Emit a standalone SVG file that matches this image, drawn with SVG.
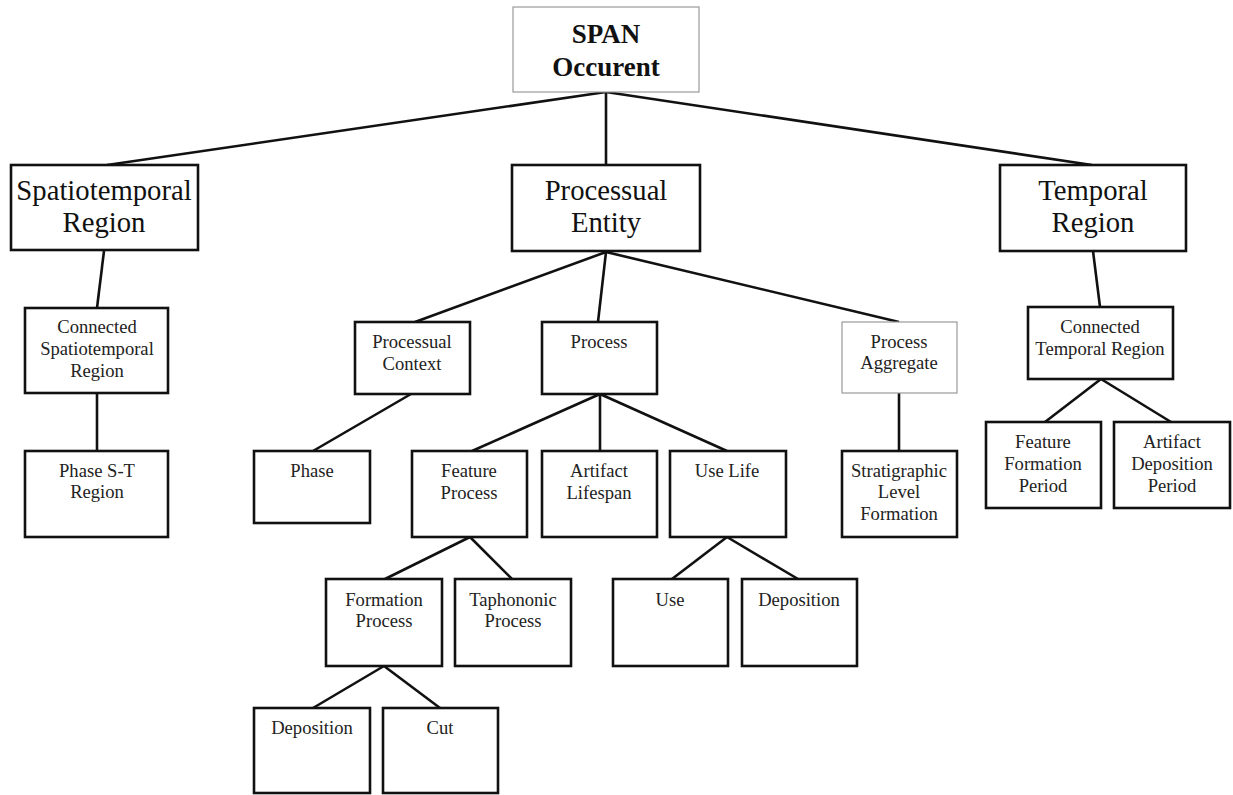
<svg xmlns="http://www.w3.org/2000/svg" width="1233" height="795" viewBox="0 0 1233 795">
<style>
.box{fill:#fff;stroke:#111;stroke-width:2.6}
.gbox{fill:#fff;stroke:#9a9a9a;stroke-width:1.2}
.t1{font-family:"Liberation Serif",serif;font-size:28.7px;fill:#111;text-anchor:middle}
.t2{font-family:"Liberation Serif",serif;font-size:18.6px;fill:#222;text-anchor:middle}
.t0{font-family:"Liberation Serif",serif;font-size:27px;font-weight:bold;fill:#111;text-anchor:middle}
.c line{stroke:#111;stroke-width:2.6}
</style>
<rect width="1233" height="795" fill="#fff"/>
<g class="c" id="connectors">
<line x1="606" y1="92" x2="107" y2="165"/>
<line x1="606" y1="92" x2="606" y2="165"/>
<line x1="606" y1="92" x2="1092" y2="165"/>
<line x1="104" y1="251" x2="97" y2="308"/>
<line x1="97" y1="393" x2="97" y2="451"/>
<line x1="606" y1="252" x2="415" y2="322"/>
<line x1="606" y1="252" x2="598" y2="322"/>
<line x1="606" y1="252" x2="899" y2="322"/>
<line x1="411" y1="394" x2="313" y2="451"/>
<line x1="600" y1="394" x2="472" y2="451"/>
<line x1="600" y1="394" x2="600" y2="451"/>
<line x1="600" y1="394" x2="727" y2="451"/>
<line x1="899" y1="393" x2="899" y2="451"/>
<line x1="470" y1="537" x2="385" y2="579"/>
<line x1="470" y1="537" x2="512" y2="579"/>
<line x1="384" y1="666" x2="313" y2="708"/>
<line x1="384" y1="666" x2="440" y2="708"/>
<line x1="727" y1="537" x2="672" y2="579"/>
<line x1="727" y1="537" x2="798" y2="579"/>
<line x1="1093" y1="251" x2="1100" y2="307"/>
<line x1="1101" y1="379" x2="1045" y2="422"/>
<line x1="1101" y1="379" x2="1171" y2="422"/>
</g>
<g id="root"><rect class="gbox" x="513" y="7" width="186" height="85"/><text class="t0" x="606" y="43">SPAN</text><text class="t0" x="606" y="76">Occurent</text></g>
<g id="spatiotemporal-region"><rect class="box" x="11" y="165" width="187" height="85"/><text class="t1" x="104" y="200">Spatiotemporal</text><text class="t1" x="104" y="232">Region</text></g>
<g id="processual-entity"><rect class="box" x="512" y="165" width="188" height="86"/><text class="t1" x="606" y="200">Processual</text><text class="t1" x="606" y="232">Entity</text></g>
<g id="temporal-region"><rect class="box" x="1000" y="165" width="186" height="86"/><text class="t1" x="1093" y="200">Temporal</text><text class="t1" x="1093" y="232">Region</text></g>
<g id="connected-st-region"><rect class="box" x="25" y="308" width="143" height="85"/><text class="t2" x="97" y="333">Connected</text><text class="t2" x="97" y="355">Spatiotemporal</text><text class="t2" x="97" y="377">Region</text></g>
<g id="phase-st-region"><rect class="box" x="25" y="451" width="143" height="86"/><text class="t2" x="97" y="477">Phase S-T</text><text class="t2" x="97" y="498">Region</text></g>
<g id="processual-context"><rect class="box" x="355" y="322" width="115" height="72"/><text class="t2" x="412" y="348">Processual</text><text class="t2" x="412" y="370">Context</text></g>
<g id="process"><rect class="box" x="542" y="322" width="115" height="72"/><text class="t2" x="599" y="348">Process</text></g>
<g id="process-aggregate"><rect class="gbox" x="842" y="322" width="115" height="71"/><text class="t2" x="899" y="348">Process</text><text class="t2" x="899" y="369">Aggregate</text></g>
<g id="connected-temporal-region"><rect class="box" x="1028" y="307" width="145" height="72"/><text class="t2" x="1100" y="333">Connected</text><text class="t2" x="1100" y="355">Temporal Region</text></g>
<g id="phase"><rect class="box" x="254" y="451" width="116" height="72"/><text class="t2" x="312" y="477">Phase</text></g>
<g id="feature-process"><rect class="box" x="412" y="451" width="115" height="86"/><text class="t2" x="469" y="477">Feature</text><text class="t2" x="469" y="499">Process</text></g>
<g id="artifact-lifespan"><rect class="box" x="542" y="451" width="115" height="86"/><text class="t2" x="599" y="477">Artifact</text><text class="t2" x="599" y="499">Lifespan</text></g>
<g id="use-life"><rect class="box" x="670" y="451" width="116" height="86"/><text class="t2" x="727" y="477">Use Life</text></g>
<g id="stratigraphic-level-formation"><rect class="box" x="842" y="451" width="115" height="86"/><text class="t2" x="899" y="477">Stratigraphic</text><text class="t2" x="899" y="498">Level</text><text class="t2" x="899" y="520">Formation</text></g>
<g id="feature-formation-period"><rect class="box" x="986" y="422" width="115" height="86"/><text class="t2" x="1043" y="448">Feature</text><text class="t2" x="1043" y="470">Formation</text><text class="t2" x="1043" y="492">Period</text></g>
<g id="artifact-deposition-period"><rect class="box" x="1114" y="422" width="116" height="86"/><text class="t2" x="1172" y="448">Artifact</text><text class="t2" x="1172" y="470">Deposition</text><text class="t2" x="1172" y="492">Period</text></g>
<g id="formation-process"><rect class="box" x="326" y="579" width="116" height="87"/><text class="t2" x="384" y="606">Formation</text><text class="t2" x="384" y="627">Process</text></g>
<g id="taphononic-process"><rect class="box" x="455" y="579" width="116" height="87"/><text class="t2" x="513" y="606">Taphononic</text><text class="t2" x="513" y="627">Process</text></g>
<g id="use"><rect class="box" x="613" y="579" width="115" height="87"/><text class="t2" x="670" y="606">Use</text></g>
<g id="deposition-use"><rect class="box" x="742" y="579" width="115" height="87"/><text class="t2" x="799" y="606">Deposition</text></g>
<g id="deposition-formation"><rect class="box" x="254" y="708" width="116" height="85"/><text class="t2" x="312" y="734">Deposition</text></g>
<g id="cut"><rect class="box" x="383" y="708" width="115" height="85"/><text class="t2" x="440" y="734">Cut</text></g>
</svg>
